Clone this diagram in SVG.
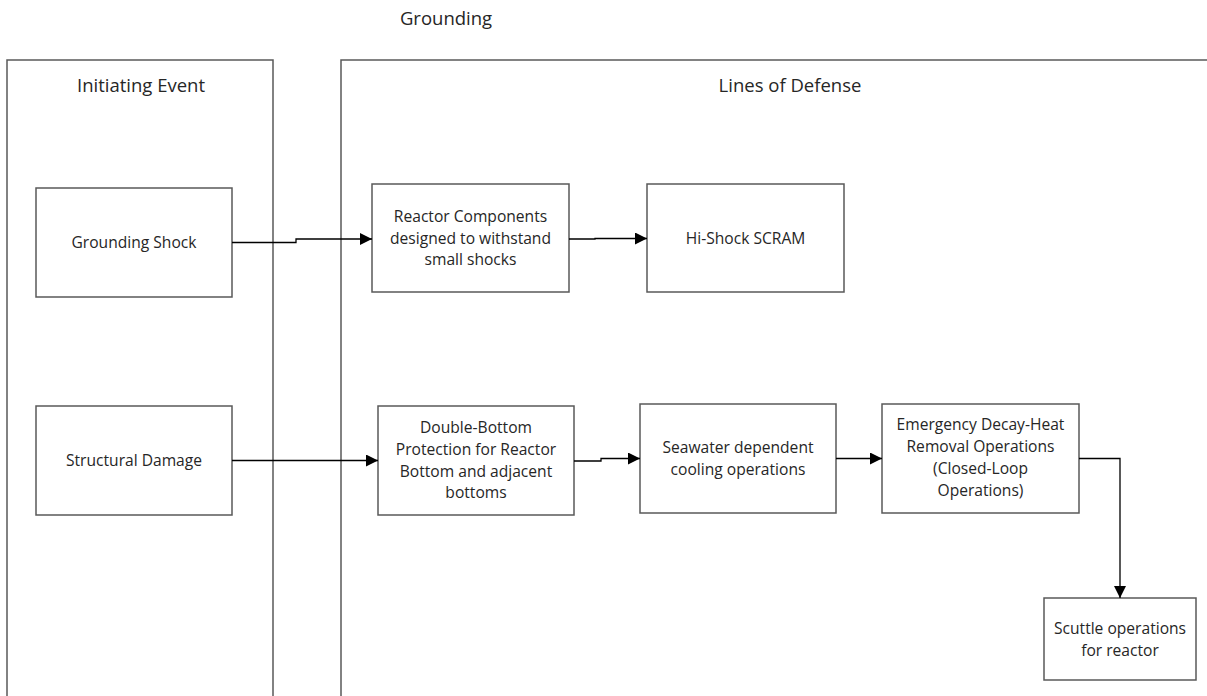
<svg xmlns="http://www.w3.org/2000/svg" width="1207" height="696" viewBox="0 0 1207 696">
<style>
.box{fill:#fff;stroke:#595959;stroke-width:1.5}
.lane{fill:none;stroke:#595959;stroke-width:1.5}
.t{font-family:"Open Sans","Noto Sans",sans-serif;font-size:15.6px;fill:#262626;text-anchor:middle}
.h{font-family:"Open Sans","Noto Sans",sans-serif;font-size:18.5px;fill:#262626;text-anchor:middle}
.c{fill:none;stroke:#000;stroke-width:1.3}
</style>
<defs>
<marker id="arr" viewBox="0 0 12 12" refX="12" refY="6" markerWidth="12" markerHeight="12" markerUnits="userSpaceOnUse" orient="auto">
<path d="M0,0 L12,6 L0,12 z" fill="#000"/>
</marker>
</defs>
<rect width="1207" height="696" fill="#fff"/>
<text class="h" x="446" y="25">Grounding</text>
<g id="lane-initiating">
<path class="lane" d="M7,700 V60 H273 V700"/>
<text class="h" x="141" y="92">Initiating Event</text>
</g>
<g id="lane-defense">
<path class="lane" d="M341,700 V60 H1210"/>
<text class="h" x="790" y="92">Lines of Defense</text>
</g>
<g id="n-grounding-shock">
<rect class="box" x="36" y="188" width="196" height="109"/>
<text class="t" x="134" y="248">Grounding Shock</text>
</g>
<g id="n-reactor-components">
<rect class="box" x="372" y="184" width="197" height="108"/>
<text class="t" x="470.5" y="222">Reactor Components</text>
<text class="t" x="470.5" y="244">designed to withstand</text>
<text class="t" x="470.5" y="265">small shocks</text>
</g>
<g id="n-hi-shock">
<rect class="box" x="647" y="184" width="197" height="108"/>
<text class="t" x="745.5" y="244">Hi-Shock SCRAM</text>
</g>
<g id="n-structural-damage">
<rect class="box" x="36" y="406" width="196" height="109"/>
<text class="t" x="134" y="466">Structural Damage</text>
</g>
<g id="n-double-bottom">
<rect class="box" x="378" y="406" width="196" height="109"/>
<text class="t" x="476" y="433">Double-Bottom</text>
<text class="t" x="476" y="455">Protection for Reactor</text>
<text class="t" x="476" y="477">Bottom and adjacent</text>
<text class="t" x="476" y="498">bottoms</text>
</g>
<g id="n-seawater">
<rect class="box" x="640" y="404" width="196" height="109"/>
<text class="t" x="738" y="453">Seawater dependent</text>
<text class="t" x="738" y="475">cooling operations</text>
</g>
<g id="n-emergency">
<rect class="box" x="882" y="404" width="197" height="109"/>
<text class="t" x="980.5" y="430">Emergency Decay-Heat</text>
<text class="t" x="980.5" y="452">Removal Operations</text>
<text class="t" x="980.5" y="474">(Closed-Loop</text>
<text class="t" x="980.5" y="496">Operations)</text>
</g>
<g id="n-scuttle">
<rect class="box" x="1044" y="598" width="152" height="82"/>
<text class="t" x="1120" y="634">Scuttle operations</text>
<text class="t" x="1120" y="656">for reactor</text>
</g>
<g id="connectors">
<path class="c" d="M232,242.5 H296 V239 H372" marker-end="url(#arr)"/>
<path class="c" d="M569,239 H595 V238.5 H647" marker-end="url(#arr)"/>
<path class="c" d="M232,460.5 H378" marker-end="url(#arr)"/>
<path class="c" d="M574,461 H601 V458.5 H640" marker-end="url(#arr)"/>
<path class="c" d="M836,458.5 H882" marker-end="url(#arr)"/>
<path class="c" d="M1079,458.5 H1120 V598" marker-end="url(#arr)"/>
</g>
</svg>
